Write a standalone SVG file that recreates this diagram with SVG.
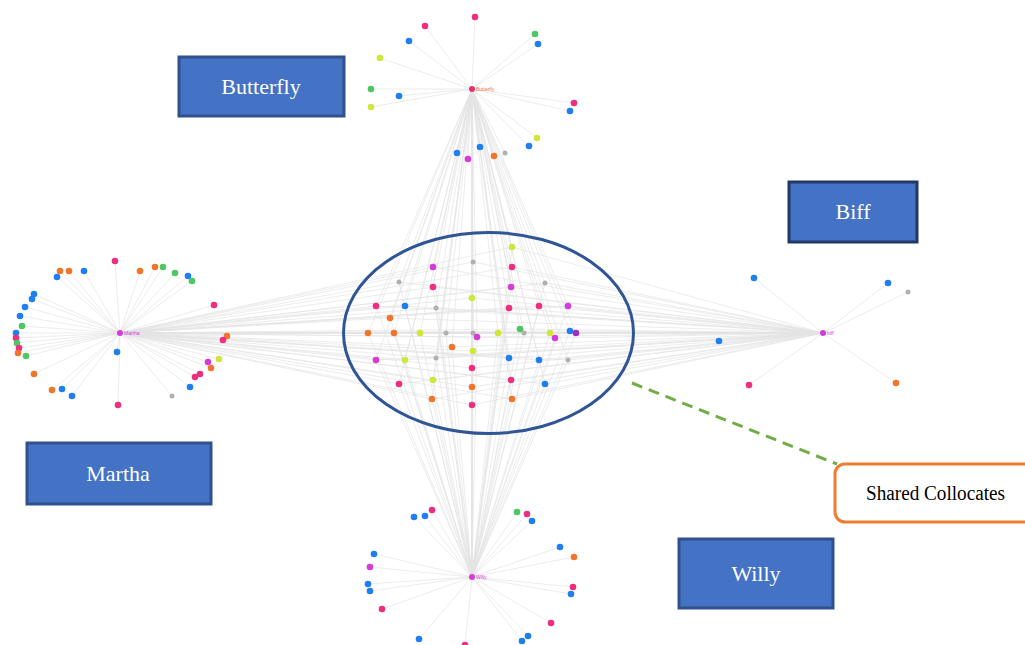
<svg xmlns="http://www.w3.org/2000/svg" width="1025" height="645" viewBox="0 0 1025 645">
<style>
.e{fill:none;stroke:#e4e4e4;stroke-width:0.7}
.pk{fill:#ee2f7f}.bl{fill:#1f7ef2}.or{fill:#f1762d}.gr{fill:#4cc764}.yg{fill:#cfe63a}.mg{fill:#d43bd8}.gy{fill:#b0b0b0}.pu{fill:#a02fc0}
.box{fill:#4472C4;stroke:#2F528F;stroke-width:3}
.bt{font-family:"Liberation Serif",serif;font-size:22px;fill:#fff;text-anchor:middle}
.hl{font-family:"Liberation Sans",sans-serif;font-size:5px}
</style>
<rect width="1025" height="645" fill="#fff"/>
<g id="connectors">
<path class="e" d="M472 89L512 247M472 89L473 262M472 89L433 267M472 89L512 267M472 89L399 282M472 89L433 287M472 89L511 287M472 89L545 283M472 89L472 298M472 89L376 306M472 89L405 306M472 89L436 308M472 89L509 308M472 89L539 306M472 89L568 306M472 89L390 318M472 89L368 333M472 89L394 333M472 89L420 333M472 89L446 333M472 89L473 333M472 89L477 337M472 89L498 333M472 89L520 329M472 89L524 333M472 89L550 333M472 89L570 331M472 89L576 333M472 89L555 338M472 89L452 347M472 89L473 351M472 89L376 360M472 89L405 360M472 89L436 358M472 89L509 358M472 89L539 360M472 89L568 360M472 89L472 368M472 89L511 380M472 89L433 380M472 89L399 384M472 89L545 384M472 89L472 387M472 89L432 399M472 89L512 399M472 89L472 405"/>
<path class="e" d="M120 333L512 247M120 333L473 262M120 333L433 267M120 333L512 267M120 333L399 282M120 333L433 287M120 333L511 287M120 333L545 283M120 333L472 298M120 333L376 306M120 333L405 306M120 333L436 308M120 333L509 308M120 333L539 306M120 333L568 306M120 333L390 318M120 333L368 333M120 333L394 333M120 333L420 333M120 333L446 333M120 333L473 333M120 333L477 337M120 333L498 333M120 333L520 329M120 333L524 333M120 333L550 333M120 333L570 331M120 333L576 333M120 333L555 338M120 333L452 347M120 333L473 351M120 333L376 360M120 333L405 360M120 333L436 358M120 333L509 358M120 333L539 360M120 333L568 360M120 333L472 368M120 333L511 380M120 333L433 380M120 333L399 384M120 333L545 384M120 333L472 387M120 333L432 399M120 333L512 399M120 333L472 405"/>
<path class="e" d="M823 333L512 247M823 333L473 262M823 333L433 267M823 333L512 267M823 333L399 282M823 333L433 287M823 333L511 287M823 333L545 283M823 333L472 298M823 333L376 306M823 333L405 306M823 333L436 308M823 333L509 308M823 333L539 306M823 333L568 306M823 333L390 318M823 333L368 333M823 333L394 333M823 333L420 333M823 333L446 333M823 333L473 333M823 333L477 337M823 333L498 333M823 333L520 329M823 333L524 333M823 333L550 333M823 333L570 331M823 333L576 333M823 333L555 338M823 333L452 347M823 333L473 351M823 333L376 360M823 333L405 360M823 333L436 358M823 333L509 358M823 333L539 360M823 333L568 360M823 333L472 368M823 333L511 380M823 333L433 380M823 333L399 384M823 333L545 384M823 333L472 387M823 333L432 399M823 333L512 399M823 333L472 405"/>
<path class="e" d="M472 577L512 247M472 577L473 262M472 577L433 267M472 577L512 267M472 577L399 282M472 577L433 287M472 577L511 287M472 577L545 283M472 577L472 298M472 577L376 306M472 577L405 306M472 577L436 308M472 577L509 308M472 577L539 306M472 577L568 306M472 577L390 318M472 577L368 333M472 577L394 333M472 577L420 333M472 577L446 333M472 577L473 333M472 577L477 337M472 577L498 333M472 577L520 329M472 577L524 333M472 577L550 333M472 577L570 331M472 577L576 333M472 577L555 338M472 577L452 347M472 577L473 351M472 577L376 360M472 577L405 360M472 577L436 358M472 577L509 358M472 577L539 360M472 577L568 360M472 577L472 368M472 577L511 380M472 577L433 380M472 577L399 384M472 577L545 384M472 577L472 387M472 577L432 399M472 577L512 399M472 577L472 405"/>
<path class="e" d="M472 89L475 17M472 89L425 26M472 89L409 41M472 89L380 58M472 89L535 34M472 89L538 44M472 89L371 89M472 89L399 96M472 89L371 107M472 89L574 103M472 89L570 111M472 89L537 138M472 89L529 146M472 89L480 147M472 89L457 153M472 89L505 153M472 89L494 156M472 89L468 159"/>
<path class="e" d="M120 333L115 261M120 333L60 271M120 333L69 271M120 333L84 271M120 333L57 277M120 333L155 267M120 333L163 267M120 333L140 271M120 333L175 273M120 333L188 276M120 333L192 281M120 333L34 294M120 333L32 299M120 333L25 307M120 333L20 316M120 333L22 326M120 333L16 333M120 333L16 338M120 333L17 343M120 333L19 348M120 333L18 353M120 333L26 356M120 333L214 305M120 333L227 336M120 333L223 340M120 333L208 362M120 333L219 359M120 333L211 368M120 333L200 374M120 333L195 377M120 333L190 387M120 333L172 396M120 333L34 374M120 333L52 390M120 333L62 389M120 333L72 396M120 333L117 352M120 333L118 405"/>
<path class="e" d="M823 333L754 278M823 333L888 283M823 333L908 292M823 333L719 341M823 333L749 385M823 333L896 383"/>
<path class="e" d="M472 577L432 510M472 577L425 516M472 577L414 517M472 577L517 512M472 577L527 514M472 577L532 521M472 577L560 547M472 577L574 557M472 577L374 554M472 577L370 567M472 577L368 584M472 577L370 591M472 577L573 587M472 577L571 594M472 577L382 609M472 577L551 623M472 577L528 636M472 577L522 641M472 577L419 639M472 577L465 645"/>
<path d="M632 383L837 464" fill="none" stroke="#70AD47" stroke-width="3" stroke-dasharray="11 7"/>
</g>
<g id="shared-collocates-ellipse">
<ellipse cx="488.5" cy="333" rx="145" ry="100.5" fill="none" stroke="#2F5597" stroke-width="3"/>
</g>
<g id="central-nodes">
<circle class="yg" cx="512" cy="247" r="3.3"/><circle class="gy" cx="473" cy="262" r="2.5"/><circle class="mg" cx="433" cy="267" r="3.3"/><circle class="pk" cx="512" cy="267" r="3.3"/><circle class="gy" cx="399" cy="282" r="2.5"/><circle class="pk" cx="433" cy="287" r="3.3"/><circle class="mg" cx="511" cy="287" r="3.3"/><circle class="gy" cx="545" cy="283" r="2.5"/><circle class="yg" cx="472" cy="298" r="3.3"/><circle class="pk" cx="376" cy="306" r="3.3"/><circle class="bl" cx="405" cy="306" r="3.3"/><circle class="gy" cx="436" cy="308" r="2.5"/><circle class="pk" cx="509" cy="308" r="3.3"/><circle class="pk" cx="539" cy="306" r="3.3"/><circle class="mg" cx="568" cy="306" r="3.3"/><circle class="or" cx="390" cy="318" r="3.3"/><circle class="or" cx="368" cy="333" r="3.3"/><circle class="or" cx="394" cy="333" r="3.3"/><circle class="yg" cx="420" cy="333" r="3.3"/><circle class="gy" cx="446" cy="333" r="2.5"/><circle class="gy" cx="473" cy="333" r="2.5"/><circle class="mg" cx="477" cy="337" r="3.3"/><circle class="yg" cx="498" cy="333" r="3.3"/><circle class="gr" cx="520" cy="329" r="3.3"/><circle class="gy" cx="524" cy="333" r="2.5"/><circle class="yg" cx="550" cy="333" r="3.3"/><circle class="bl" cx="570" cy="331" r="3.3"/><circle class="pu" cx="576" cy="333" r="3.3"/><circle class="mg" cx="555" cy="338" r="3.3"/><circle class="or" cx="452" cy="347" r="3.3"/><circle class="yg" cx="473" cy="351" r="3.3"/><circle class="mg" cx="376" cy="360" r="3.3"/><circle class="yg" cx="405" cy="360" r="3.3"/><circle class="gy" cx="436" cy="358" r="2.5"/><circle class="bl" cx="509" cy="358" r="3.3"/><circle class="bl" cx="539" cy="360" r="3.3"/><circle class="gy" cx="568" cy="360" r="2.5"/><circle class="pk" cx="472" cy="368" r="3.3"/><circle class="pk" cx="511" cy="380" r="3.3"/><circle class="yg" cx="433" cy="380" r="3.3"/><circle class="pk" cx="399" cy="384" r="3.3"/><circle class="bl" cx="545" cy="384" r="3.3"/><circle class="or" cx="472" cy="387" r="3.3"/><circle class="or" cx="432" cy="399" r="3.3"/><circle class="or" cx="512" cy="399" r="3.3"/><circle class="pk" cx="472" cy="405" r="3.3"/>
</g>
<g id="butterfly-cluster">
<circle class="pk" cx="475" cy="17" r="3.3"/><circle class="pk" cx="425" cy="26" r="3.3"/><circle class="bl" cx="409" cy="41" r="3.3"/><circle class="yg" cx="380" cy="58" r="3.3"/><circle class="gr" cx="535" cy="34" r="3.3"/><circle class="bl" cx="538" cy="44" r="3.3"/><circle class="gr" cx="371" cy="89" r="3.3"/><circle class="bl" cx="399" cy="96" r="3.3"/><circle class="yg" cx="371" cy="107" r="3.3"/><circle class="pk" cx="574" cy="103" r="3.3"/><circle class="bl" cx="570" cy="111" r="3.3"/><circle class="yg" cx="537" cy="138" r="3.3"/><circle class="bl" cx="529" cy="146" r="3.3"/><circle class="bl" cx="480" cy="147" r="3.3"/><circle class="bl" cx="457" cy="153" r="3.3"/><circle class="gy" cx="505" cy="153" r="2.5"/><circle class="or" cx="494" cy="156" r="3.3"/><circle class="mg" cx="468" cy="159" r="3.3"/>
<circle cx="472" cy="89" r="3" fill="#e8306e"/><text class="hl" x="476" y="91" fill="#f1762d">Butterfly</text>
</g>
<g id="martha-cluster">
<circle class="pk" cx="115" cy="261" r="3.3"/><circle class="or" cx="60" cy="271" r="3.3"/><circle class="or" cx="69" cy="271" r="3.3"/><circle class="bl" cx="84" cy="271" r="3.3"/><circle class="bl" cx="57" cy="277" r="3.3"/><circle class="or" cx="155" cy="267" r="3.3"/><circle class="gr" cx="163" cy="267" r="3.3"/><circle class="or" cx="140" cy="271" r="3.3"/><circle class="gr" cx="175" cy="273" r="3.3"/><circle class="bl" cx="188" cy="276" r="3.3"/><circle class="gr" cx="192" cy="281" r="3.3"/><circle class="bl" cx="34" cy="294" r="3.3"/><circle class="bl" cx="32" cy="299" r="3.3"/><circle class="bl" cx="25" cy="307" r="3.3"/><circle class="bl" cx="20" cy="316" r="3.3"/><circle class="gr" cx="22" cy="326" r="3.3"/><circle class="bl" cx="16" cy="333" r="3.3"/><circle class="pk" cx="16" cy="338" r="3.3"/><circle class="gr" cx="17" cy="343" r="3.3"/><circle class="pk" cx="19" cy="348" r="3.3"/><circle class="or" cx="18" cy="353" r="3.3"/><circle class="gr" cx="26" cy="356" r="3.3"/><circle class="pk" cx="214" cy="305" r="3.3"/><circle class="or" cx="227" cy="336" r="3.3"/><circle class="pk" cx="223" cy="340" r="3.3"/><circle class="mg" cx="208" cy="362" r="3.3"/><circle class="yg" cx="219" cy="359" r="3.3"/><circle class="or" cx="211" cy="368" r="3.3"/><circle class="pk" cx="200" cy="374" r="3.3"/><circle class="pk" cx="195" cy="377" r="3.3"/><circle class="bl" cx="190" cy="387" r="3.3"/><circle class="gy" cx="172" cy="396" r="2.5"/><circle class="or" cx="34" cy="374" r="3.3"/><circle class="or" cx="52" cy="390" r="3.3"/><circle class="bl" cx="62" cy="389" r="3.3"/><circle class="bl" cx="72" cy="396" r="3.3"/><circle class="bl" cx="117" cy="352" r="3.3"/><circle class="pk" cx="118" cy="405" r="3.3"/>
<circle class="mg" cx="120" cy="333" r="3"/><text class="hl" x="124" y="335" fill="#d43bd8">Martha</text>
</g>
<g id="biff-cluster">
<circle class="bl" cx="754" cy="278" r="3.3"/><circle class="bl" cx="888" cy="283" r="3.3"/><circle class="gy" cx="908" cy="292" r="2.5"/><circle class="bl" cx="719" cy="341" r="3.3"/><circle class="pk" cx="749" cy="385" r="3.3"/><circle class="or" cx="896" cy="383" r="3.3"/>
<circle class="mg" cx="823" cy="333" r="3"/><text class="hl" x="827" y="335" fill="#d43bd8">biff</text>
</g>
<g id="willy-cluster">
<circle class="pk" cx="432" cy="510" r="3.3"/><circle class="bl" cx="425" cy="516" r="3.3"/><circle class="bl" cx="414" cy="517" r="3.3"/><circle class="gr" cx="517" cy="512" r="3.3"/><circle class="pk" cx="527" cy="514" r="3.3"/><circle class="bl" cx="532" cy="521" r="3.3"/><circle class="bl" cx="560" cy="547" r="3.3"/><circle class="or" cx="574" cy="557" r="3.3"/><circle class="bl" cx="374" cy="554" r="3.3"/><circle class="mg" cx="370" cy="567" r="3.3"/><circle class="bl" cx="368" cy="584" r="3.3"/><circle class="bl" cx="370" cy="591" r="3.3"/><circle class="pk" cx="573" cy="587" r="3.3"/><circle class="bl" cx="571" cy="594" r="3.3"/><circle class="pk" cx="382" cy="609" r="3.3"/><circle class="pk" cx="551" cy="623" r="3.3"/><circle class="bl" cx="528" cy="636" r="3.3"/><circle class="bl" cx="522" cy="641" r="3.3"/><circle class="bl" cx="419" cy="639" r="3.3"/><circle class="pk" cx="465" cy="645" r="3.3"/>
<circle class="mg" cx="472" cy="577" r="3"/><text class="hl" x="476" y="579" fill="#d43bd8">Willy</text>
</g>
<g id="label-butterfly"><rect class="box" x="179" y="57" width="165" height="59"/><text class="bt" x="261" y="94">Butterfly</text></g>
<g id="label-biff"><rect class="box" x="789" y="182" width="128" height="60" style="stroke:#203864"/><text class="bt" x="853" y="219">Biff</text></g>
<g id="label-martha"><rect class="box" x="27" y="443" width="184" height="61"/><text class="bt" x="118" y="481">Martha</text></g>
<g id="label-willy"><rect class="box" x="679" y="539" width="154" height="69"/><text class="bt" x="756" y="581">Willy</text></g>
<g id="label-shared">
<rect x="835" y="464" width="220" height="58" rx="10" fill="#fff" stroke="#ED7D31" stroke-width="3"/>
<text x="866" y="500" font-family="'Liberation Serif',serif" font-size="20" fill="#000" textLength="139" lengthAdjust="spacingAndGlyphs">Shared Collocates</text>
</g>
</svg>
